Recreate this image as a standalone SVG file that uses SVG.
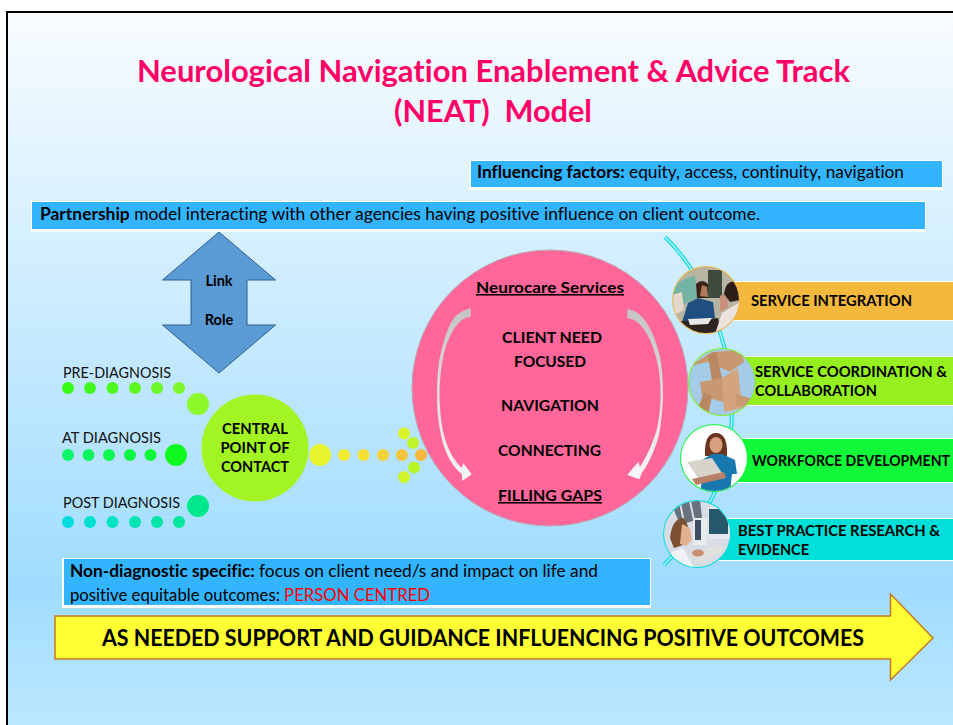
<svg xmlns="http://www.w3.org/2000/svg" width="953" height="725" viewBox="0 0 953 725">
<style>
text{font-family:"Lato","Open Sans","Liberation Sans",sans-serif;fill:#000;font-variant-ligatures:none}
.b{font-weight:700}
.t{font-size:30px;font-weight:700;fill:#ff0066}
.lbl{font-size:15px;fill:#111}
.n{font-size:15.5px;font-weight:700}
.f{font-size:16.5px}
.box{fill:#33b4ff}
.wh{fill:#fff}
.d{stroke:none}
</style>
<defs>
<linearGradient id="bg" x1="0" y1="0" x2="0" y2="1">
<stop offset="0" stop-color="#f8fcff"/><stop offset="0.8" stop-color="#a0dcff"/><stop offset="1" stop-color="#bde8ff"/>
</linearGradient>
<linearGradient id="cv" x1="0" y1="0" x2="0" y2="1">
<stop offset="0" stop-color="#c4c4c4"/><stop offset="1" stop-color="#f6f6f6"/>
</linearGradient>
<clipPath id="c1"><circle cx="706" cy="300" r="33"/></clipPath>
<clipPath id="c2"><circle cx="722" cy="382" r="33"/></clipPath>
<clipPath id="c3"><circle cx="714" cy="458" r="33"/></clipPath>
<clipPath id="c4"><circle cx="697" cy="534" r="33"/></clipPath>
</defs>
<rect id="page" x="0" y="0" width="953" height="725" fill="#fff"/>
<rect x="7" y="12" width="950" height="720" fill="url(#bg)" stroke="#000" stroke-width="2"/>

<g id="title">
<text class="t" x="137" y="82" textLength="713" lengthAdjust="spacingAndGlyphs">Neurological Navigation Enablement &amp; Advice Track</text>
<text class="t" x="394" y="122" textLength="198" lengthAdjust="spacingAndGlyphs" xml:space="preserve">(NEAT)  Model</text>
</g>

<g id="connectors">
<path d="M665 237 C705 275 732 345 732 410 C732 470 705 525 664 565" fill="none" stroke="#12dce0" stroke-width="4"/>
<path d="M665 237 C705 275 732 345 732 410 C732 470 705 525 664 565" fill="none" stroke="#b8f0f8" stroke-width="1.4"/>
</g>

<g id="influencing-factors">
<rect class="wh" x="469" y="160" width="474" height="30"/>
<rect class="box" x="471" y="161" width="471" height="26"/>
<text class="f" x="477" y="178" textLength="427" lengthAdjust="spacingAndGlyphs"><tspan class="b">Influencing factors:</tspan> equity, access, continuity, navigation</text>
</g>
<g id="partnership">
<rect class="wh" x="31" y="201" width="895" height="31"/>
<rect class="box" x="32" y="202" width="893" height="27"/>
<text class="f" x="40" y="220" textLength="720" lengthAdjust="spacingAndGlyphs"><tspan class="b">Partnership</tspan> model interacting with other agencies having positive influence on client outcome.</text>
</g>

<g id="link-role">
<path d="M219 232 L275.500 280 L247 280 L247 325 L275.500 325 L219 373 L162.500 325 L191 325 L191 280 L162.500 280 Z" fill="#5b9bd5" stroke="#2f5f8f"/>
<text class="b" font-size="14.500" x="219" y="286" text-anchor="middle">Link</text>
<text class="b" font-size="14.500" x="219" y="325" text-anchor="middle">Role</text>
</g>

<g id="pre-diagnosis">
<text class="lbl" x="63" y="378" textLength="108" lengthAdjust="spacingAndGlyphs">PRE-DIAGNOSIS</text>
<circle class="d" cx="68" cy="388" r="6" fill="#33fb14"/><circle class="d" cx="90" cy="388" r="6" fill="#40f81a"/><circle class="d" cx="112.500" cy="388" r="6" fill="#4df81e"/><circle class="d" cx="135" cy="388" r="6" fill="#5cf822"/><circle class="d" cx="157" cy="388" r="6" fill="#6cf826"/><circle class="d" cx="179" cy="388" r="6" fill="#7df82a"/>
<circle class="d" cx="198" cy="404" r="11" fill="#8df82a"/>
</g>
<g id="at-diagnosis">
<text class="lbl" x="62" y="443" textLength="99" lengthAdjust="spacingAndGlyphs">AT DIAGNOSIS</text>
<circle class="d" cx="68" cy="455" r="6" fill="#0cf46a"/><circle class="d" cx="88.500" cy="455" r="6" fill="#0cf45c"/><circle class="d" cx="109" cy="455" r="6" fill="#0cf650"/><circle class="d" cx="130" cy="455" r="6" fill="#0cf644"/><circle class="d" cx="150.500" cy="455" r="6" fill="#0cf838"/>
<circle class="d" cx="176" cy="455" r="11" fill="#10fa20"/>
</g>
<g id="post-diagnosis">
<text class="lbl" x="63" y="508" textLength="117" lengthAdjust="spacingAndGlyphs">POST DIAGNOSIS</text>
<circle class="d" cx="68" cy="522" r="6" fill="#00dce0"/><circle class="d" cx="90" cy="522" r="6" fill="#00e0d0"/><circle class="d" cx="112.500" cy="522" r="6" fill="#00e2c0"/><circle class="d" cx="135" cy="522" r="6" fill="#00e4b4"/><circle class="d" cx="157" cy="522" r="6" fill="#00e6a8"/><circle class="d" cx="179" cy="522" r="6" fill="#00e89c"/>
<circle class="d" cx="198" cy="506" r="11" fill="#00e88c"/>
</g>

<g id="central-point">
<circle cx="255" cy="448" r="53.500" fill="#a2f522"/>
<text class="n" x="255" y="434" text-anchor="middle" textLength="66" lengthAdjust="spacingAndGlyphs">CENTRAL</text>
<text class="n" x="255" y="453" text-anchor="middle" textLength="69" lengthAdjust="spacingAndGlyphs">POINT OF</text>
<text class="n" x="255" y="472" text-anchor="middle" textLength="68" lengthAdjust="spacingAndGlyphs">CONTACT</text>
</g>

<g id="flow-dots">
<circle class="d" cx="320" cy="455" r="11" fill="#e8f42e"/>
<circle class="d" cx="344" cy="455" r="6" fill="#f2ec30"/><circle class="d" cx="363.500" cy="455" r="6" fill="#f6e034"/><circle class="d" cx="383" cy="455" r="6" fill="#f6d038"/><circle class="d" cx="402" cy="455" r="6" fill="#f6c43a"/><circle class="d" cx="421" cy="455" r="6" fill="#f6b83c"/>
<circle class="d" cx="404" cy="433.500" r="6" fill="#d8f428"/><circle class="d" cx="413" cy="443" r="6" fill="#c0f428"/><circle class="d" cx="414" cy="467.500" r="6" fill="#b8f428"/><circle class="d" cx="404" cy="477" r="6" fill="#d0f428"/>
</g>

<g id="neurocare-services">
<circle cx="550" cy="388" r="138" fill="#ff6699" stroke="#b8a8b0" stroke-width="1"/>
<path d="M470.700 308 Q463 310 456.700 315 C449 322 444 338 439.300 360 C438 370 437 380 437 393 C437 410 438 420 440 430 C443 448 450 465 461.700 474 L462.300 481 L471.700 474.300 L463.300 463.300 L461.700 467.700 C452 459 446 445 442.700 430 C440.500 418 439.500 405 439.500 393 C440 378 441 368 442.700 360 C445 345 452 328 461.700 320 Q466 317 470.700 316.700 Z" fill="url(#cv)"/>
<path d="M627.300 309.300 C640 310 652 324 660 356.700 C662 368 663 380 663 393 C663 410 661 420 660 430 C657 445 650 462 641.700 473.300 L639.300 479.300 L627.300 475 L638.300 461.700 L640 466.700 C646 458 652 445 656.700 430 C659 420 660.500 408 660.500 393 C660.500 380 659 368 656 356.700 C650 335 640 319 627.300 318.300 Z" fill="url(#cv)"/>
<text class="n" x="476" y="293" text-decoration="underline" textLength="148" lengthAdjust="spacingAndGlyphs">Neurocare Services</text>
<text class="n" x="502" y="343" textLength="100" lengthAdjust="spacingAndGlyphs">CLIENT NEED</text>
<text class="n" x="514" y="367" textLength="72" lengthAdjust="spacingAndGlyphs">FOCUSED</text>
<text class="n" x="501" y="411" textLength="98" lengthAdjust="spacingAndGlyphs">NAVIGATION</text>
<text class="n" x="498" y="456" textLength="103" lengthAdjust="spacingAndGlyphs">CONNECTING</text>
<text class="n" x="498" y="501" text-decoration="underline" textLength="104" lengthAdjust="spacingAndGlyphs">FILLING GAPS</text>
</g>

<g id="service-integration">
<rect class="wh" x="725" y="281" width="228" height="40"/>
<rect x="725" y="282" width="228" height="38" fill="#f4b93c"/>
<circle cx="706" cy="300" r="34" fill="#f4b93c"/>
<g clip-path="url(#c1)">
<rect x="672" y="266" width="68" height="68" fill="#b8b4a4"/>
<rect x="708" y="270" width="14" height="28" fill="#3e4a3e"/>
<path d="M672 285 L695 275 L697 298 L682 305 L672 310 Z" fill="#74b4a4"/>
<path d="M672 295 L682 292 L684 310 L672 316 Z" fill="#e4d8c8"/>
<path d="M682 322 L688 303 L698 298 L713 302 L715 318 L695 320 Z" fill="#1f4f80"/>
<path d="M697 298 L696 284 Q702 278 708 284 L708 298 Z" fill="#3a2418"/>
<path d="M700 296 L702 285 L707 287 L708 297 Z" fill="#b07a5c"/>
<path d="M672 322 L718 318 L722 336 L672 336 Z" fill="#2c2420"/>
<path d="M688 319 L712 318 L708 324 L690 325 Z" fill="#e8e8e8"/>
<path d="M715 334 L722 313 L740 302 L740 334 Z" fill="#ece4dc"/>
<path d="M720 312 L720 296 L727 292 L728 308 Z" fill="#c89078"/>
<path d="M724 294 Q726 279 737 282 L740 300 L730 302 Z" fill="#2e1e18"/>
</g>
<text class="n" x="751" y="306" textLength="161" lengthAdjust="spacingAndGlyphs">SERVICE INTEGRATION</text>
</g>

<g id="service-coordination">
<rect class="wh" x="740" y="356" width="213" height="50"/>
<rect x="740" y="357" width="213" height="48" fill="#96f020"/>
<circle cx="722" cy="382" r="34" fill="#80f020"/>
<g clip-path="url(#c2)">
<rect x="688" y="348" width="68" height="68" fill="#a4cce8"/>
<path d="M690 366 L712 352 L742 350 L744 362 L730 372 L708 362 Z" fill="#c89870"/>
<path d="M708 355 L716 352 L726 395 L714 395 Z" fill="#b88860"/>
<path d="M700 382 L722 378 L734 405 L702 396 Z" fill="#c89870"/>
<path d="M722 378 L738 368 L742 408 L724 412 Z" fill="#d4a47c"/>
<path d="M696 414 L704 392 L712 396 L708 416 Z" fill="#b88860"/>
<path d="M736 394 L756 400 L756 408 L736 406 Z" fill="#c89870"/>
</g>
<text class="n" x="755" y="377" font-size="14.500" style="font-size:14.500px" textLength="192" lengthAdjust="spacingAndGlyphs">SERVICE COORDINATION &amp;</text>
<text class="n" x="755" y="396" textLength="122" lengthAdjust="spacingAndGlyphs">COLLABORATION</text>
</g>

<g id="workforce-development">
<rect class="wh" x="735" y="438" width="218" height="45"/>
<rect x="735" y="439" width="218" height="43" fill="#10f838"/>
<circle cx="714" cy="458" r="34" fill="#10f838"/>
<g clip-path="url(#c3)">
<rect x="680" y="424" width="68" height="68" fill="#fff"/>
<path d="M705 456 Q704 433 716 433 Q728 433 727 456 Z" fill="#6a3420"/>
<ellipse cx="716" cy="445" rx="6.500" ry="8" fill="#d8a080"/>
<path d="M702 460 L712 454 L722 454 L735 460 L737 474 L732 474 L730 492 L700 492 L703 474 Z" fill="#1878b0"/>
<path d="M687 462 L712 458 L724 476 L698 478 Z" fill="#d8d4cc"/>
<path d="M692 479 L724 472 L726 478 L696 485 Z" fill="#b88068"/>
</g>
<text class="n" x="752" y="466" style="font-size:14.500px" textLength="198" lengthAdjust="spacingAndGlyphs">WORKFORCE DEVELOPMENT</text>
</g>

<g id="best-practice">
<rect class="wh" x="715" y="518" width="238" height="43"/>
<rect x="715" y="519" width="238" height="41" fill="#00e0d8"/>
<circle cx="697" cy="534" r="34" fill="#00e0d8"/>
<g clip-path="url(#c4)">
<rect x="663" y="500" width="68" height="68" fill="#d8dce4"/>
<path d="M672 505 L700 500 L702 518 L680 525 Z" fill="#68727e"/>
<path d="M680 503 L684 522 M690 501 L694 520" stroke="#d8dce4" stroke-width="2" fill="none"/>
<rect x="708" y="507" width="22" height="32" fill="#e4e8ec"/>
<rect x="709" y="509" width="19" height="25" fill="#24586a"/>
<rect x="693" y="518" width="14" height="27" fill="#e8eaee"/>
<rect x="695" y="520" width="6" height="20" fill="#3c4c64"/>
<path d="M670 538 Q672 518 684 518 L688 526 L686 544 L674 548 Z" fill="#7c5030"/>
<path d="M682 524 L690 528 L692 540 L686 546 L680 544 Z" fill="#e0b090"/>
<path d="M668 568 L672 552 L683 548 L694 568 Z" fill="#f0f2f4"/>
<path d="M690 553 L720 545 L727 550 L700 562 Z" fill="#e0e0dc"/>
<ellipse cx="698" cy="553" rx="6" ry="3.500" fill="#c89070"/>
</g>
<text class="n" x="738" y="536" textLength="202" lengthAdjust="spacingAndGlyphs">BEST PRACTICE RESEARCH &amp;</text>
<text class="n" x="738" y="555" textLength="71" lengthAdjust="spacingAndGlyphs">EVIDENCE</text>
</g>

<g id="non-diagnostic">
<rect class="wh" x="62" y="558" width="589" height="50"/>
<rect class="box" x="64" y="559" width="586" height="46"/>
<text class="f" x="70" y="577" textLength="528" lengthAdjust="spacingAndGlyphs"><tspan class="b">Non-diagnostic specific:</tspan> focus on client need/s and impact on life and</text>
<text class="f" x="70" y="601" textLength="360" lengthAdjust="spacingAndGlyphs">positive equitable outcomes: <tspan style="fill:#ff0000">PERSON CENTRED</tspan></text>
</g>

<g id="outcomes-arrow">
<path d="M55 616 L890.500 616 L890.500 594 L933 638 L890.500 680 L890.500 659 L55 659 Z" fill="#ffff33" stroke="#c87820" stroke-width="1.500"/>
<text class="b" font-size="22px" x="102" y="646" textLength="762" lengthAdjust="spacingAndGlyphs">AS NEEDED SUPPORT AND GUIDANCE INFLUENCING POSITIVE OUTCOMES</text>
</g>
</svg>
